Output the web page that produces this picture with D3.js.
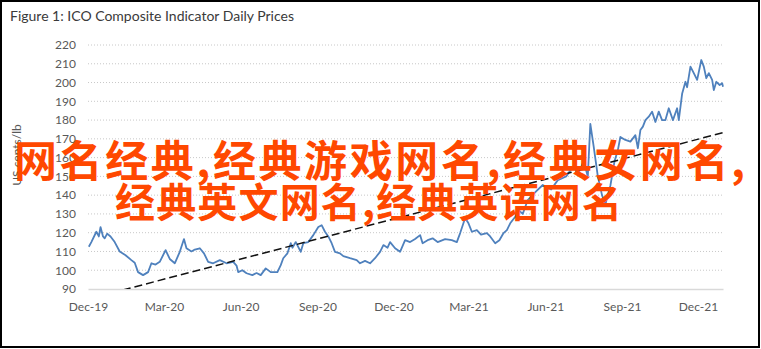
<!DOCTYPE html>
<html>
<head>
<meta charset="utf-8">
<script src="https://d3js.org/d3.v7.min.js"></script>
<style>
  body { margin: 0; background: #fff; overflow: hidden; }
  svg { display: block; }
</style>
</head>
<body>
<svg id="chart" width="761" height="349"></svg>
<script>
// ICO composite indicator, daily prices (US cents/lb)
var priceDates = [
  "2019-12-02","2019-12-05","2019-12-11","2019-12-14","2019-12-16","2019-12-19","2019-12-21","2019-12-24","2019-12-28",
  "2020-01-02","2020-01-08","2020-01-15","2020-01-22","2020-01-26","2020-01-30","2020-02-05","2020-02-11","2020-02-15",
  "2020-02-20","2020-02-25","2020-03-03","2020-03-08","2020-03-14","2020-03-20","2020-03-25","2020-03-28","2020-04-03",
  "2020-04-07","2020-04-13","2020-04-18","2020-04-23","2020-04-29","2020-05-07","2020-05-15","2020-05-23","2020-05-27",
  "2020-05-29","2020-06-03","2020-06-08","2020-06-15","2020-06-20","2020-06-25","2020-07-01","2020-07-07","2020-07-15",
  "2020-07-19","2020-07-22","2020-07-27","2020-07-31","2020-08-02","2020-08-06","2020-08-12","2020-08-15","2020-08-21",
  "2020-08-27","2020-09-02","2020-09-06","2020-09-10","2020-09-14","2020-09-18","2020-09-22","2020-09-28","2020-10-02",
  "2020-10-10","2020-10-18","2020-10-22","2020-10-28","2020-11-03","2020-11-09","2020-11-15","2020-11-19","2020-11-24",
  "2020-11-27","2020-12-03","2020-12-09","2020-12-15","2020-12-21","2020-12-27","2021-01-02","2021-01-05","2021-01-11",
  "2021-01-17","2021-01-23","2021-02-01","2021-02-09","2021-02-15","2021-02-19","2021-02-25","2021-03-01","2021-03-05",
  "2021-03-11","2021-03-16","2021-03-23","2021-03-27","2021-04-02","2021-04-07","2021-04-12","2021-04-16","2021-04-20",
  "2021-04-26","2021-04-30","2021-05-05","2021-05-11","2021-05-21","2021-05-29","2021-06-08","2021-06-16","2021-06-26",
  "2021-07-04","2021-07-11","2021-07-17","2021-07-22","2021-07-25","2021-07-29","2021-08-03","2021-08-08","2021-08-12",
  "2021-08-18","2021-08-23","2021-08-27","2021-08-30","2021-09-05","2021-09-11","2021-09-17","2021-09-20","2021-09-23",
  "2021-09-26","2021-09-29","2021-10-03","2021-10-07","2021-10-11","2021-10-15","2021-10-19","2021-10-23","2021-10-27",
  "2021-11-01","2021-11-06","2021-11-08","2021-11-12","2021-11-16","2021-11-18","2021-11-22","2021-11-26","2021-11-30",
  "2021-12-05","2021-12-08","2021-12-11","2021-12-14","2021-12-18","2021-12-20","2021-12-23","2021-12-27","2021-12-30",
  "2021-12-31"
];
var priceValues = [
  112.5,115,120.5,118,123,118,117,119.5,118,
  115,110,108,105.4,104,99,97.4,99,103.7,
  103,104.5,110.7,106,103.7,109.8,116.6,111.7,110,
  111,111.7,109,104.5,103.7,105.4,103.7,104.5,102.5,
  99,100,98.4,97.4,98.5,97.4,101,99,99,
  102.7,106.4,109,114.4,112,115,109.8,114.4,115,
  118.7,123,124,120.5,118,114.4,109.8,109,107.5,
  106.4,105.4,103.7,105,103.7,106.4,109.8,113.4,112,
  115,111.7,109.8,116,115,116.6,118.7,114.4,116,
  117,115,116.6,116,115,119.8,127.8,125,120.5,
  121.4,119,119.8,118,114.4,116,119.8,121.4,125,
  128.5,132,130,137.4,142,145.4,143,148,150,
  155,152,158,150,178,166,150,140,135,
  145,158,164,171,169.4,168.5,172,165,174.7,
  176.5,180,181.8,184.5,179,184.5,180,180,186.3,
  180,186.3,180,194,200.4,197.5,208.5,205,201.4,
  212,208.5,202.3,205,201.4,196,200.4,198.7,199.6,
  197.8
];

// linear trend line (ends of the domain, clipped to the plot)
var trendDates = ["2019-12-01", "2021-12-31"];
var trendValues = [84.6, 173.3];

var yTicks = [90, 100, 110, 120, 130, 140, 150, 160, 170, 180, 190, 200, 210, 220];
var xTickDates = ["2019-12-01","2020-03-01","2020-06-01","2020-09-01","2020-12-01",
                  "2021-03-01","2021-06-01","2021-09-01","2021-12-01"];

var titleText = "Figure 1: ICO Composite Indicator Daily Prices";
var yAxisTitle = "US cents/lb";
var overlayLines = ["网名经典,经典游戏网名,经典女网名,", "经典英文网名,经典英语网名"];

var parse = d3.timeParse("%Y-%m-%d");

var svg = d3.select("#chart"),
    margin = {top: 45, right: 38, bottom: 60, left: 88},
    width = +svg.attr("width") - margin.left - margin.right,
    height = +svg.attr("height") - margin.top - margin.bottom;

var font = "Lato, 'Open Sans', sans-serif";

// frame
svg.append("rect")
  .attr("x", 1).attr("y", 1)
  .attr("width", 758).attr("height", 346)
  .attr("fill", "#fff")
  .attr("stroke", "#000")
  .attr("stroke-width", 2);

svg.append("text")
  .attr("x", 10).attr("y", 21)
  .attr("font-family", font)
  .attr("font-size", 14)
  .attr("fill", "#3a3a3a")
  .text(titleText);

var g = svg.append("g").attr("transform", "translate(" + margin.left + "," + margin.top + ")");

var x = d3.scaleTime()
  .domain([parse("2019-12-01"), parse("2021-12-31")])
  .range([0, width]);

var y = d3.scaleLinear()
  .domain([90, 220])
  .range([height, 0]);

// dotted gridlines
g.append("g")
  .selectAll("line")
  .data(yTicks.filter(function(d) { return d > 90; }))
  .enter().append("line")
  .attr("x1", 0).attr("x2", width)
  .attr("y1", function(d) { return y(d); })
  .attr("y2", function(d) { return y(d); })
  .attr("stroke", "#c8c8c8")
  .attr("stroke-width", 1)
  .attr("stroke-dasharray", "1,2");

// y axis labels
var yAxis = g.append("g")
  .call(d3.axisLeft(y).tickValues(yTicks).tickSize(0).tickPadding(12));
yAxis.select(".domain").remove();
yAxis.selectAll("text")
  .attr("font-family", font)
  .attr("font-size", 12)
  .attr("fill", "#595959");

// x axis
var xAxis = g.append("g")
  .attr("transform", "translate(0," + height + ")")
  .call(d3.axisBottom(x)
    .tickValues(xTickDates.map(parse))
    .tickFormat(d3.timeFormat("%b-%y"))
    .tickSize(0).tickPadding(13));
xAxis.select(".domain")
  .attr("stroke", "#d9d9d9")
  .attr("stroke-width", 1.5);
xAxis.selectAll("text")
  .attr("font-family", font)
  .attr("font-size", 12)
  .attr("fill", "#595959");

svg.append("text")
  .attr("transform", "translate(21," + 155 + ") rotate(-90)")
  .attr("text-anchor", "middle")
  .attr("font-family", font)
  .attr("font-size", 12)
  .attr("fill", "#595959")
  .text(yAxisTitle);

g.append("clipPath")
  .attr("id", "plotClip")
  .append("rect")
  .attr("x", 0).attr("y", 0)
  .attr("width", width).attr("height", height);

var series = priceDates.map(function(d, i) { return {date: parse(d), value: priceValues[i]}; });
var trend = trendDates.map(function(d, i) { return {date: parse(d), value: trendValues[i]}; });

var line = d3.line()
  .x(function(d) { return x(d.date); })
  .y(function(d) { return y(d.value); });

g.append("path")
  .datum(series)
  .attr("fill", "none")
  .attr("stroke", "#4f81bd")
  .attr("stroke-width", 1.8)
  .attr("stroke-linejoin", "round")
  .attr("d", line);

g.append("path")
  .datum(trend)
  .attr("clip-path", "url(#plotClip)")
  .attr("fill", "none")
  .attr("stroke", "#111")
  .attr("stroke-width", 1.5)
  .attr("stroke-dasharray", "8,4")
  .attr("d", line);

// red text stamped over the picture
var overlayX = [14, 115], overlayW = [731, 507], overlayY = [158, 200], overlaySize = [43, 40];
svg.append("g")
  .selectAll("text")
  .data(overlayLines)
  .enter().append("text")
  .attr("x", function(d, i) { return overlayX[i]; })
  .attr("y", function(d, i) { return overlayY[i]; })
  .attr("dominant-baseline", "central")
  .attr("textLength", function(d, i) { return overlayW[i]; })
  .attr("lengthAdjust", "spacing")
  .attr("font-family", "'Noto Sans CJK SC', sans-serif")
  .attr("font-weight", "bold")
  .attr("font-size", function(d, i) { return overlaySize[i]; })
  .attr("fill", "#ff4800")
  .text(function(d) { return d; });
</script>
</body>
</html>
